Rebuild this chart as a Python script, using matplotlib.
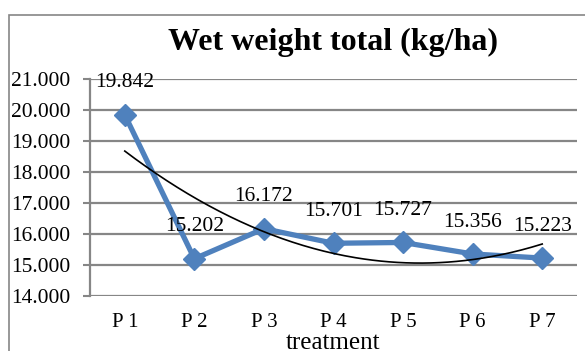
import numpy as np
import matplotlib
matplotlib.use("Agg")
import matplotlib.pyplot as plt
from matplotlib.patches import Rectangle

categories = ["P 1", "P 2", "P 3", "P 4", "P 5", "P 6", "P 7"]
values = [19.842, 15.202, 16.172, 15.701, 15.727, 15.356, 15.223]
value_labels = ["19.842", "15.202", "16.172", "15.701", "15.727", "15.356", "15.223"]
y_ticks = [14, 15, 16, 17, 18, 19, 20, 21]
y_tick_labels = ["14.000", "15.000", "16.000", "17.000", "18.000", "19.000", "20.000", "21.000"]

plt.rcParams["font.family"] = ["Liberation Serif", "DejaVu Serif"]

BLUE = "#4F81BD"
GRID = "#868686"

fig = plt.figure(figsize=(5.85, 3.51), dpi=100)
# outer chart border (right/bottom edges run off the image)
fig.patches.append(Rectangle((9 / 585, -0.1), 1.0, 0.957 + 0.1, transform=fig.transFigure,
                             fill=False, edgecolor=GRID, lw=1.2))

ax = fig.add_axes([90 / 585, 1 - 296 / 351, 487 / 585, 217 / 351])
x = np.arange(len(categories))

ax.plot(x, values, color=BLUE, lw=3.8, marker="D", ms=11, zorder=3)

# polynomial (order 2) trendline fitted to the series
coef = np.polyfit(x + 1, values, 2)
xs = np.linspace(0, len(x) - 1, 200)
ax.plot(xs, np.polyval(coef, xs + 1), color="black", lw=1.2, zorder=4)

for xi, v, lab in zip(x, values, value_labels):
    ax.annotate(lab, (xi, v), xytext=(0, 23), textcoords="offset points",
                ha="center", va="center", fontsize=15.5, zorder=5)

ax.set_xlim(-0.5, len(x) - 0.5)
ax.set_ylim(14, 21)
ax.set_yticks(y_ticks)
ax.set_yticklabels(y_tick_labels, fontsize=15.5)
ax.set_xticks(x)
ax.set_xticklabels(categories, fontsize=15)
ax.tick_params(axis="x", length=0, pad=12)
ax.tick_params(axis="y", length=5, width=1.5, color=GRID, pad=9)
ax.grid(axis="y", color=GRID, lw=1.6)
ax.set_axisbelow(True)
for s in ["top", "right", "bottom"]:
    ax.spines[s].set_visible(False)
ax.spines["left"].set_color(GRID)
ax.spines["left"].set_linewidth(1.6)

ax.set_xlabel("treatment", fontsize=18, labelpad=0)
ax.set_title("Wet weight total (kg/ha)", fontsize=23, fontweight="bold", pad=21)

fig.savefig("out.png", dpi=100)
